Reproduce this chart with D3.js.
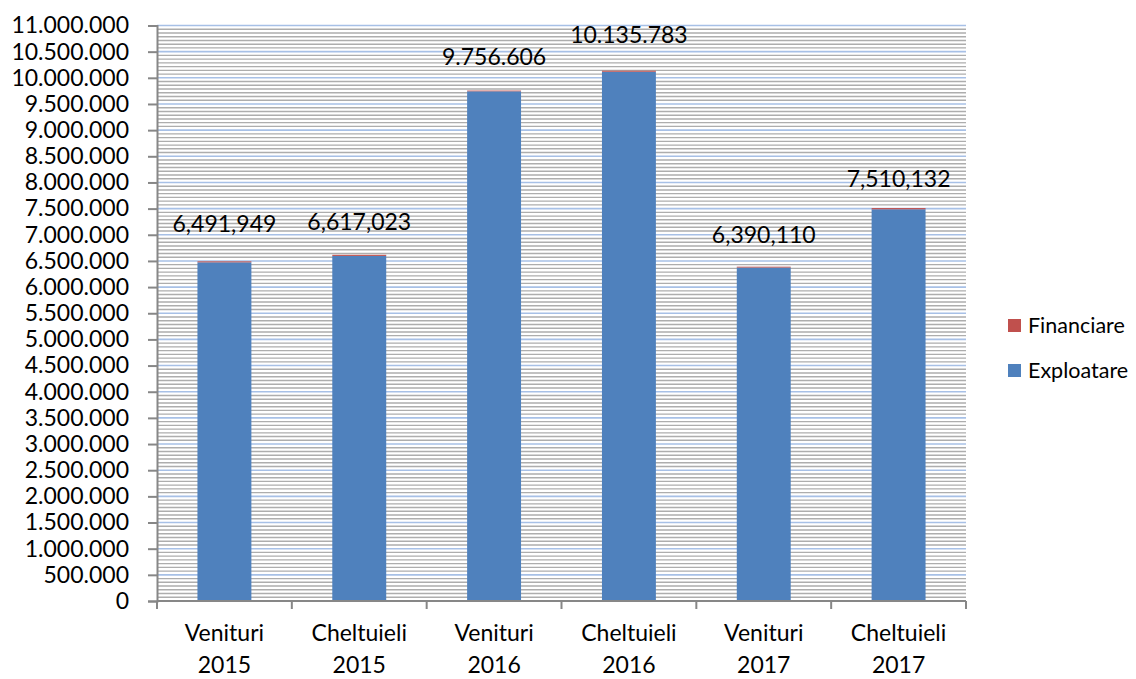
<!DOCTYPE html>
<html>
<head>
<meta charset="utf-8">
<script src="https://cdn.jsdelivr.net/npm/d3@7"></script>
<style>
  body { margin: 0; background: #fff; }
  text { font-family: Lato, "Open Sans", sans-serif; fill: #000; }
</style>
</head>
<body>
<div id="vis"></div>
<script>
// chart data
var categories = ["Venituri 2015", "Cheltuieli 2015", "Venituri 2016", "Cheltuieli 2016", "Venituri 2017", "Cheltuieli 2017"];
var exploatare = [6473449, 6595723, 9742406, 10115983, 6373710, 7487432];
var financiare = [18500, 21300, 14200, 19800, 16400, 22700];
var totalLabels = ["6,491,949", "6,617,023", "9.756.606", "10.135.783", "6,390,110", "7,510,132"];
var yTicks = d3.range(0, 11000001, 500000);
var seriesNames = ["Exploatare", "Financiare"];

// how far above each bar its label sits (px), labels were hand placed
var labelLift = [29, 25, 26, 28, 24, 21];

var w = 1136;
var h = 679;
// note: "top" is taken by window.top, so use plot* names
var plotLeft = 157, plotRight = 966, plotTop = 25.5, plotBottom = 601;

var svg = d3.select("#vis").append("svg").attr("width", w).attr("height", h);

var x = d3.scaleBand().domain(categories).range([plotLeft, plotRight]).paddingInner(0.6).paddingOuter(0.3);
var y = d3.scaleLinear().domain([0, 11000000]).range([plotBottom, plotTop]);
var color = d3.scaleOrdinal().domain(seriesNames).range(["#4f81bd", "#c0504d"]);

// minor gridlines (gray), 7 per major step
var minor = [];
for (var i = 0; i <= 22 * 7; i++) {
  if (i % 7 != 0) minor.push(i * 500000 / 7);
}
svg.append("g").selectAll("line").data(minor).enter().append("line")
  .attr("x1", plotLeft).attr("x2", plotRight)
  .attr("y1", function (d) { return y(d); })
  .attr("y2", function (d) { return y(d); })
  .attr("stroke", "#adadad")
  .attr("stroke-width", 1.4);

// major gridlines (light blue)
svg.append("g").selectAll("line").data(yTicks.filter(function (d) { return d > 0; })).enter().append("line")
  .attr("x1", plotLeft).attr("x2", plotRight)
  .attr("y1", function (d) { return y(d); })
  .attr("y2", function (d) { return y(d); })
  .attr("stroke", "#a7c0e6")
  .attr("stroke-width", 1.6);

// stacked bars
var rows = categories.map(function (c, i) {
  return { cat: c, Exploatare: exploatare[i], Financiare: financiare[i] };
});
var stacked = d3.stack().keys(seriesNames)(rows);

svg.append("g").selectAll("g").data(stacked).enter().append("g")
  .attr("fill", function (d) { return color(d.key); })
  .selectAll("rect").data(function (d) { return d; }).enter().append("rect")
  .attr("x", function (d) { return x(d.data.cat); })
  .attr("width", x.bandwidth())
  .attr("y", function (d) { return y(d[1]); })
  .attr("height", function (d) { return y(d[0]) - y(d[1]); });

// y axis
var yAxis = svg.append("g")
  .attr("transform", "translate(" + plotLeft + ",0)")
  .call(d3.axisLeft(y).tickValues(yTicks).tickSize(9).tickPadding(19)
    .tickFormat(function (d) { return d3.format(",")(d).replace(/,/g, "."); }));
yAxis.select(".domain").attr("stroke", "#878787").attr("stroke-width", 2);
yAxis.selectAll(".tick line").attr("stroke", "#878787").attr("stroke-width", 2);
yAxis.selectAll(".tick text").style("font-size", "23px").style("font-family", "Lato").attr("fill", "#000");

// x axis
svg.append("line")
  .attr("x1", plotLeft).attr("x2", plotRight)
  .attr("y1", plotBottom).attr("y2", plotBottom)
  .attr("stroke", "#878787").attr("stroke-width", 2);

var edges = d3.range(categories.length + 1).map(function (i) { return plotLeft + i * x.step(); });
svg.append("g").selectAll("line").data(edges).enter().append("line")
  .attr("x1", function (d) { return d; }).attr("x2", function (d) { return d; })
  .attr("y1", plotBottom).attr("y2", plotBottom + 8)
  .attr("stroke", "#878787").attr("stroke-width", 2);

var catText = svg.append("g").selectAll("text").data(categories).enter().append("text")
  .attr("x", function (d) { return x(d) + x.bandwidth() / 2; })
  .attr("y", 641)
  .attr("text-anchor", "middle")
  .style("font-size", "23px");
catText.append("tspan")
  .attr("x", function (d) { return x(d) + x.bandwidth() / 2; })
  .text(function (d) { return d.split(" ")[0]; });
catText.append("tspan")
  .attr("x", function (d) { return x(d) + x.bandwidth() / 2; })
  .attr("dy", 32)
  .text(function (d) { return d.split(" ")[1]; });

// value labels
svg.append("g").selectAll("text").data(categories).enter().append("text")
  .attr("x", function (d) { return x(d) + x.bandwidth() / 2; })
  .attr("y", function (d, i) { return y(exploatare[i] + financiare[i]) - labelLift[i]; })
  .attr("text-anchor", "middle")
  .style("font-size", "23px")
  .text(function (d, i) { return totalLabels[i]; });

// legend
var legendItems = ["Financiare", "Exploatare"];
var legend = svg.append("g").selectAll("g").data(legendItems).enter().append("g")
  .attr("transform", function (d, i) { return "translate(1008," + (319 + i * 45) + ")"; });
legend.append("rect")
  .attr("width", 13).attr("height", 13)
  .attr("fill", function (d) { return color(d); });
legend.append("text")
  .attr("x", 20).attr("y", 14)
  .style("font-size", "21.5px")
  .text(function (d) { return d; });
</script>
</body>
</html>
